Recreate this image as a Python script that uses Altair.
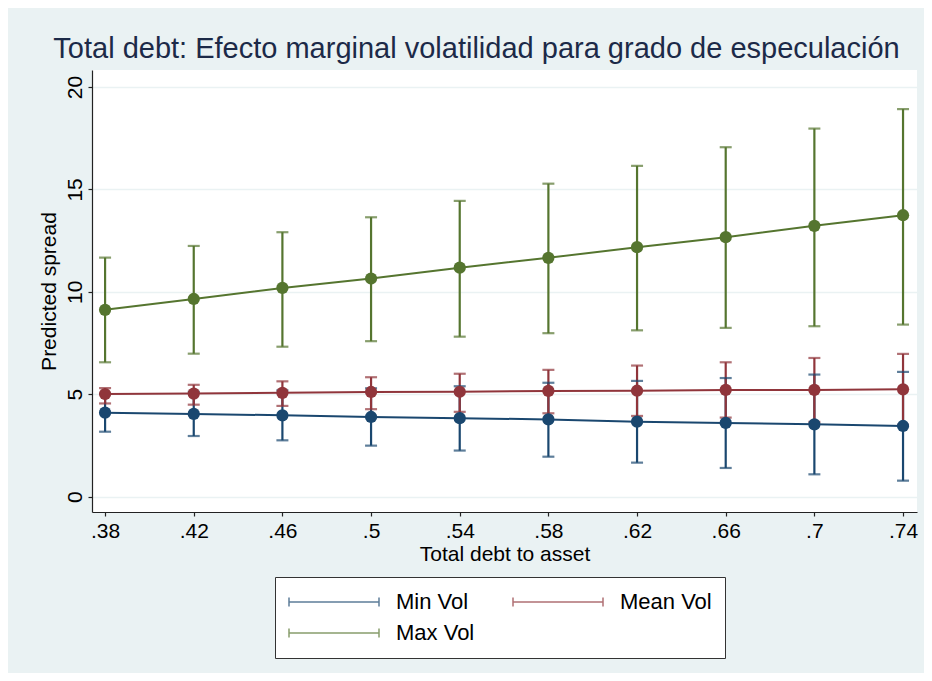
import altair as alt
import pandas as pd

x_vals = [0.38, 0.42, 0.46, 0.50, 0.54, 0.58, 0.62, 0.66, 0.70, 0.74]
series_names = ["Min Vol", "Mean Vol", "Max Vol"]
series_colors = ["#1a476f", "#90353b", "#55752f"]

min_mean = [4.10, 4.04, 3.97, 3.89, 3.83, 3.77, 3.66, 3.60, 3.53, 3.45]
min_lo = [3.17, 2.96, 2.75, 2.49, 2.25, 1.95, 1.66, 1.40, 1.09, 0.78]
min_hi = [5.03, 5.12, 5.19, 5.29, 5.39, 5.56, 5.65, 5.79, 5.96, 6.09]

mean_mean = [5.01, 5.03, 5.07, 5.11, 5.12, 5.16, 5.17, 5.21, 5.21, 5.24]
mean_lo = [4.55, 4.49, 4.43, 4.27, 4.14, 4.07, 3.94, 3.86, 3.65, 3.51]
mean_hi = [5.30, 5.46, 5.63, 5.83, 6.00, 6.19, 6.40, 6.56, 6.77, 6.97]

max_mean = [9.12, 9.65, 10.19, 10.65, 11.18, 11.66, 12.18, 12.67, 13.22, 13.74]
max_lo = [6.56, 6.98, 7.32, 7.59, 7.81, 7.98, 8.12, 8.24, 8.32, 8.40]
max_hi = [11.67, 12.24, 12.91, 13.64, 14.44, 15.28, 16.15, 17.06, 17.97, 18.92]

y_ticks = [0, 5, 10, 15, 20]

rows = []
for name, m, lo, hi in [
    ("Min Vol", min_mean, min_lo, min_hi),
    ("Mean Vol", mean_mean, mean_lo, mean_hi),
    ("Max Vol", max_mean, max_lo, max_hi),
]:
    for xv, a, b, c in zip(x_vals, m, lo, hi):
        rows.append({"series": name, "x": xv, "y": a, "lo": b, "hi": c})
df = pd.DataFrame(rows)

FONT = "Liberation Sans"

legend = alt.Legend(
    title=None,
    orient="none",
    legendX=183,
    legendY=507,
    direction="horizontal",
    columns=2,
    symbolType="M-1,0H1M-1,-0.1V0.1M1,-0.1V0.1",
    symbolSize=8100,
    symbolStrokeWidth=1.5,
    clipHeight=24,
    labelFontSize=22,
    labelFont=FONT,
    labelColor="black",
    labelOffset=16,
    labelLimit=0,
    columnPadding=37,
    rowPadding=7,
    padding=13,
    strokeColor="#333333",
    fillColor="white",
)

color = alt.Color(
    "series:N",
    scale=alt.Scale(domain=series_names, range=series_colors),
    legend=legend,
)

x_enc = alt.X(
    "x:Q",
    scale=alt.Scale(domain=[0.3741, 0.7463], nice=False, zero=False),
    axis=alt.Axis(
        values=x_vals,
        labelExpr="replace(format(datum.value, '.2~f'), '0.', '.')",
        title="Total debt to asset",
        grid=False,
        labelFontSize=21,
        titleFontSize=21,
        labelPadding=4,
        titlePadding=2,
        tickSize=4,
    ),
)

y_enc = alt.Y(
    "y:Q",
    scale=alt.Scale(domain=[-0.75, 20.83], nice=False, zero=False),
    axis=alt.Axis(
        values=y_ticks,
        title="Predicted spread",
        grid=True,
        labelAngle=270,
        labelAlign="center",
        labelBaseline="alphabetic",
        labelFontSize=21,
        titleFontSize=21,
        labelPadding=7,
        titlePadding=5,
        tickSize=4,
    ),
)

base = alt.Chart(df)

bars = base.mark_rule(strokeWidth=2.2).encode(
    x=x_enc, y=alt.Y("lo:Q"), y2="hi:Q", color=color
)
caps_hi = base.mark_tick(orient="horizontal", size=12, thickness=2.2).encode(
    x="x:Q", y="hi:Q", color=color
)
caps_lo = base.mark_tick(orient="horizontal", size=12, thickness=2.2).encode(
    x="x:Q", y="lo:Q", color=color
)
lines = base.mark_line(strokeWidth=2).encode(x="x:Q", y=y_enc, color=color)
points = base.mark_circle(size=150, opacity=1).encode(x="x:Q", y="y:Q", color=color)

chart = (
    alt.layer(bars, caps_hi, caps_lo, lines, points)
    .properties(
        width=825,
        height=442,
        autosize=alt.AutoSizeParams(type="none"),
        padding={"left": 84, "top": 62, "right": 7, "bottom": 161},
        background="#eaf2f3",
        title=alt.TitleParams(
            "Total debt: Efecto marginal volatilidad para grado de especulación",
            fontSize=29,
            font=FONT,
            fontWeight="normal",
            color="#1c2a48",
            anchor="middle",
            dx=-28,
            dy=28,
            baseline="alphabetic",
            offset=11,
        ),
    )
    .configure_view(fill="white", strokeWidth=0)
    .configure_axis(
        labelFont=FONT,
        titleFont=FONT,
        labelColor="black",
        titleColor="black",
        titleFontWeight="normal",
        domainColor="#222222",
        domainWidth=1.2,
        tickColor="#222222",
        tickWidth=1.2,
        gridColor="#eaf2f3",
        gridWidth=1.5,
    )
)

chart.save("out.html", embed_options={"renderer": "svg", "actions": False})
